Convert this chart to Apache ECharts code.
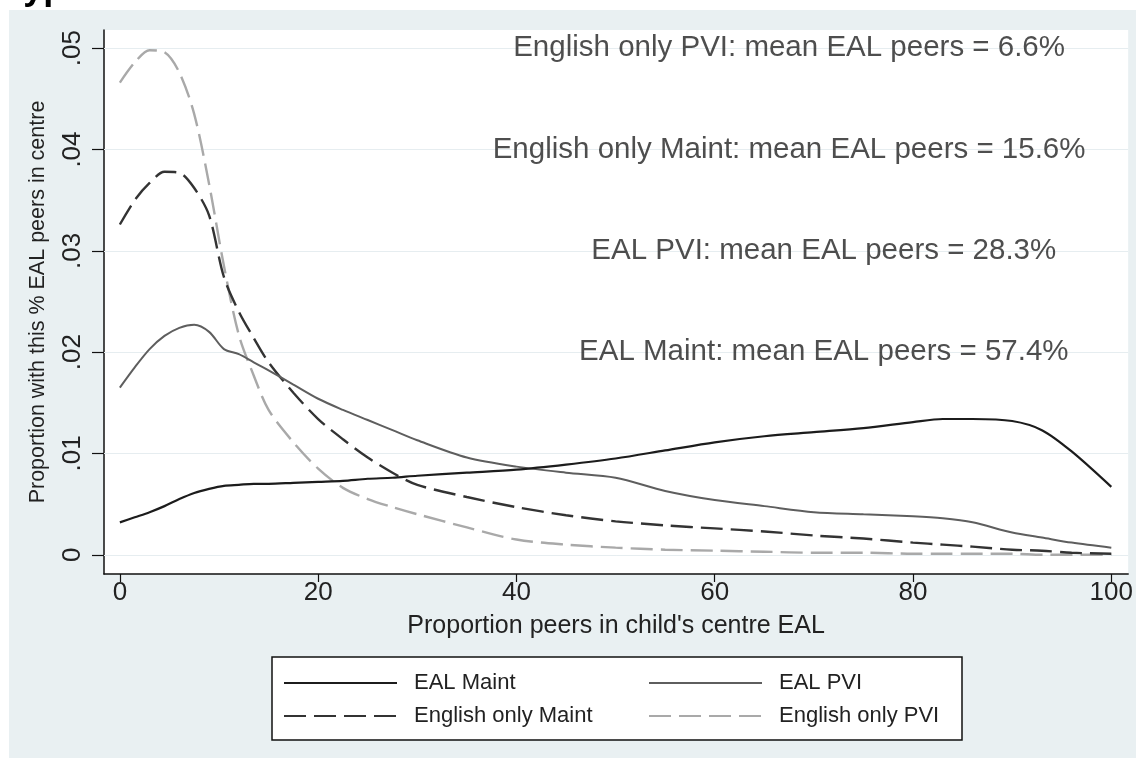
<!DOCTYPE html>
<html>
<head>
<meta charset="utf-8">
<script src="https://cdn.jsdelivr.net/npm/echarts@6/dist/echarts.min.js"></script>
<style>
  html, body { margin: 0; padding: 0; background: #fff; }
  #chart { width: 1136px; height: 758px; }
</style>
</head>
<body>
<div id="chart"></div>
<script>
// % EAL peers in the child's centre (x) and the density
const xs = [0, 1.5, 3, 4.5, 6, 7.5, 9, 10.5, 12, 13.5, 15, 17.5, 20, 22.5, 25, 27.5, 30,
  35, 40, 45, 50, 55, 60, 65, 70, 75, 80, 83, 86, 90, 93, 96, 100]

const ealMaint = [0.0032, 0.0037, 0.0042, 0.0048, 0.0055, 0.0061, 0.0065, 0.0068, 0.0069, 0.0070,
  0.0070, 0.0071, 0.0072, 0.0073, 0.0075, 0.0076, 0.0078, 0.0081, 0.0084, 0.0089, 0.0095, 0.0103,
  0.0111, 0.0117, 0.0121, 0.0125, 0.0131, 0.0134, 0.0134, 0.0132, 0.0123, 0.0102, 0.0067]

const ealPvi = [0.0165, 0.0185, 0.0203, 0.0216, 0.0224, 0.0227, 0.0220, 0.0203, 0.0198, 0.0190,
  0.0182, 0.0168, 0.0154, 0.0143, 0.0133, 0.0123, 0.0113, 0.0096, 0.0087, 0.0081, 0.0076, 0.0063,
  0.0054, 0.0048, 0.0042, 0.0040, 0.0038, 0.0036, 0.0032, 0.0022, 0.0017, 0.0012, 0.0007]

const engMaint = [0.0326, 0.0350, 0.0367, 0.0378, 0.0377, 0.0362, 0.0335, 0.0274, 0.0240, 0.0214,
  0.0190, 0.0160, 0.0134, 0.0114, 0.0096, 0.0081, 0.0069, 0.0057, 0.0047, 0.0039, 0.0033, 0.0029,
  0.0026, 0.0023, 0.0019, 0.0016, 0.0012, 0.0010, 0.0008, 0.0005, 0.0004, 0.0002, 0.0001]

const engPvi = [0.0466, 0.0486, 0.0498, 0.0496, 0.0476, 0.0435, 0.0366, 0.0285, 0.0217, 0.0177,
  0.0143, 0.0111, 0.0085, 0.0066, 0.0055, 0.0047, 0.0040, 0.0027, 0.0015, 0.0010, 0.0007, 0.0005,
  0.0004, 0.0003, 0.0002, 0.0002, 0.0001, 0.0001, 0.0001, 0.0001, 0, 0, 0]

const xTicks = [0, 20, 40, 60, 80, 100]
const yTicks = [0, 0.01, 0.02, 0.03, 0.04, 0.05]

// notes written inside the plot, placed in data units
const noteText = [
  'English only PVI: mean EAL peers = 6.6%',
  'English only Maint: mean EAL peers = 15.6%',
  'EAL PVI: mean EAL peers = 28.3%',
  'EAL Maint: mean EAL peers = 57.4%'
]
const noteX = [67.5, 67.5, 71, 71]
const noteY = [0.05, 0.04, 0.03, 0.02]

const font = 'Liberation Sans, Arial, sans-serif'

function pairs(vals){
  return xs.map((x, i) => [x, vals[i]])
}

const legendBase = {
  orient: 'vertical', top: 672, padding: 0,
  itemWidth: 113, itemHeight: 14, itemGap: 11, selectedMode: false,
  itemStyle: { opacity: 0 },
  textStyle: { fontSize: 22, color: '#222', padding: [0, 0, 0, 12] }
}

const chart = echarts.init(document.getElementById('chart'))
const option = {
  animation: false,
  backgroundColor: '#ffffff',
  textStyle: { fontFamily: font },
  graphic: [
    {
      type: 'rect', z: -10, silent: true,
      shape: { x: 9, y: 10, width: 1127, height: 748 },
      style: { fill: '#e9f0f2' }
    },
    {
      type: 'text', z: 5, silent: true,
      style: { text: 'Type', x: 4, y: 7, verticalAlign: 'bottom', fill: '#000',
        font: 'bold 36px ' + font }
    },
    {
      type: 'rect', z: 1, silent: true,
      shape: { x: 272, y: 657, width: 690, height: 83 },
      style: { fill: '#ffffff', stroke: '#111', lineWidth: 1.5 }
    }
  ],
  grid: {
    left: 104, right: 6, top: 30, bottom: 184,
    show: true, backgroundColor: '#ffffff', borderWidth: 0
  },
  legend: [
    Object.assign({ data: ['EAL Maint', 'English only Maint'], left: 283 }, legendBase),
    Object.assign({ data: ['EAL PVI', 'English only PVI'], left: 648 }, legendBase)
  ],
  xAxis: {
    type: 'value', min: -1.6, max: 101.7,
    name: "Proportion peers in child's centre EAL",
    nameLocation: 'middle', nameGap: 40,
    nameTextStyle: { fontSize: 25, color: '#222' },
    axisLine: { onZero: false, lineStyle: { color: '#111', width: 1.5 } },
    axisTick: { customValues: xTicks, length: 8, lineStyle: { color: '#111', width: 1.2 } },
    axisLabel: { customValues: xTicks, fontSize: 26, color: '#222', margin: 6 },
    splitLine: { show: false }
  },
  yAxis: {
    type: 'value', min: -0.0019, max: 0.0518,
    name: 'Proportion with this % EAL peers in centre',
    nameLocation: 'middle', nameGap: 55,
    nameTextStyle: { fontSize: 21.5, color: '#222' },
    axisLine: { show: true, onZero: false, lineStyle: { color: '#111', width: 1.5 } },
    axisTick: { show: true, customValues: yTicks, length: 12, lineStyle: { color: '#111', width: 1.2 } },
    axisLabel: {
      customValues: yTicks, fontSize: 26, color: '#222', rotate: 90, margin: 18,
      formatter: v => v === 0 ? '0' : String(+v.toFixed(2)).replace(/^0/, '')
    },
    splitLine: { show: false }
  },
  series: [
    {
      name: 'EAL Maint', type: 'line', data: pairs(ealMaint),
      smooth: 0.3, symbol: 'none', z: 6,
      lineStyle: { color: '#1c1c1c', width: 2.2 },
      itemStyle: { color: '#1c1c1c' },
      markLine: {
        silent: true, symbol: 'none', label: { show: false }, z: 1,
        lineStyle: { color: '#e6edf0', width: 1, type: 'solid' },
        data: yTicks.map(v => ({ yAxis: v }))
      }
    },
    {
      name: 'EAL PVI', type: 'line', data: pairs(ealPvi),
      smooth: 0.3, symbol: 'none', z: 5,
      lineStyle: { color: '#5e5e5e', width: 2 },
      itemStyle: { color: '#5e5e5e' }
    },
    {
      name: 'English only Maint', type: 'line', data: pairs(engMaint),
      smooth: 0.3, symbol: 'none', z: 4,
      lineStyle: { color: '#333333', width: 2.4, type: [22, 8] },
      itemStyle: { color: '#333333' }
    },
    {
      name: 'English only PVI', type: 'line', data: pairs(engPvi),
      smooth: 0.3, symbol: 'none', z: 3,
      lineStyle: { color: '#a9a9a9', width: 2.4, type: [22, 8] },
      itemStyle: { color: '#a9a9a9' }
    },
    {
      name: 'notes', type: 'scatter', silent: true,
      data: noteX.map((x, i) => [x, noteY[i], noteText[i]]),
      symbolSize: 1, itemStyle: { color: 'rgba(0,0,0,0)' },
      label: {
        show: true, position: 'inside', fontSize: 29.5, color: '#222',
        formatter: p => p.data[2]
      }
    }
  ]
}
chart.setOption(option)
window.addEventListener('resize', function(){
  chart.resize()
})
</script>
</body>
</html>
